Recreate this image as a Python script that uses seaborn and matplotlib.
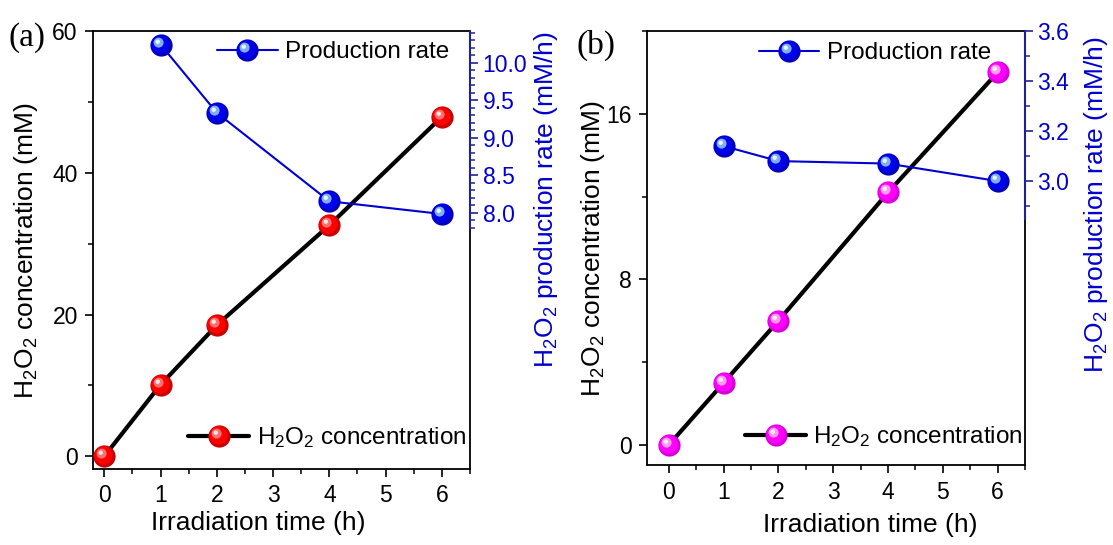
import numpy as np
import pandas as pd
import matplotlib
matplotlib.use('Agg')
import matplotlib.pyplot as plt
import seaborn as sns
from matplotlib.markers import MarkerStyle
from matplotlib.transforms import Affine2D
from matplotlib.lines import Line2D
from matplotlib.legend_handler import HandlerTuple
from matplotlib.ticker import FixedLocator, FormatStrFormatter

# ---------------- data ----------------
time_conc = [0, 1, 2, 4, 6]
time_rate = [1, 2, 4, 6]
conc_a = [0.0, 10.1, 18.5, 32.6, 47.9]
rate_a = [10.24, 9.33, 8.15, 7.98]
conc_b = [0.0, 3.0, 6.0, 12.2, 18.0]
rate_b = [3.14, 3.08, 3.07, 3.00]
x_ticks = [0, 1, 2, 3, 4, 5, 6]
conc_ticks_a = [0, 20, 40, 60]
conc_ticks_b = [0, 8, 16]
rate_ticks_a = [8.0, 8.5, 9.0, 9.5, 10.0]
rate_ticks_b = [3.0, 3.2, 3.4, 3.6]
x_label = 'Irradiation time (h)'
conc_label = r'H$_2$O$_2$ concentration (mM)'
rate_label = r'H$_2$O$_2$ production rate (mM/h)'
legend_conc = r'H$_2$O$_2$ concentration'
legend_rate = 'Production rate'
panel_labels = ['(a)', '(b)']

# ---------------- style ----------------
sns.set_style('ticks')
plt.rcParams['font.family'] = ['Liberation Sans', 'DejaVu Sans']
plt.rcParams['mathtext.default'] = 'regular'
plt.rcParams['axes.linewidth'] = 1.3
plt.rcParams['text.color'] = 'black'
plt.rcParams['axes.labelcolor'] = 'black'
plt.rcParams['xtick.color'] = 'black'
plt.rcParams['ytick.color'] = 'black'

BLUE_TXT = '#0000CC'
BLUE_AX = '#20209A'
MS = 16

sphere_colors = {
    'red': ['#C80000', '#FF0000', '#FF7070', '#FFE6E6'],
    'magenta': ['#D800D8', '#FF00FF', '#FF9CEB', '#FFF0F8'],
    'blue': ['#0000B8', '#0000F0', '#7FB0F0', '#E8F4FF'],
}
layers = [(1.0, 0.0), (0.82, 0.05), (0.45, 0.13), (0.2, 0.17)]


def layer_marker(scale, off):
    return MarkerStyle('o', transform=Affine2D().scale(scale).translate(-off, off))


def draw_spheres(ax, x, y, cname, z):
    for (sc, off), col in zip(layers, sphere_colors[cname]):
        ax.plot(x, y, ls='none', marker=layer_marker(sc, off), ms=MS,
                mfc=col, mec='none', zorder=z)


def legend_handle(line_color, lw, cname):
    hs = [Line2D([], [], color=line_color, lw=lw)]
    for (sc, off), col in zip(layers, sphere_colors[cname]):
        hs.append(Line2D([], [], ls='none', marker=layer_marker(sc, off), ms=MS,
                         mfc=col, mec='none'))
    return tuple(hs)


fig = plt.figure(figsize=(11.13, 5.45), dpi=100)
axA = fig.add_axes([0.0836, 0.1394, 0.3387, 0.8037])
axB = fig.add_axes([0.5813, 0.1459, 0.3396, 0.7970])

panels = [
    dict(ax=axA, conc=conc_a, rate=rate_a, cname='red', xlim=(-0.2, 6.5),
         ylim=(-1.8, 60), cticks=conc_ticks_a, cminor=[10, 30, 50],
         tylim=(4.58, 10.42), rticks=rate_ticks_a,
         rminor=[7.8, 7.9, 8.1, 8.2, 8.3, 8.4, 8.6, 8.7, 8.8, 8.9, 9.1, 9.2, 9.3, 9.4,
                 9.6, 9.7, 9.8, 9.9, 10.1, 10.2, 10.3, 10.4],
         bounds=(7.8, 10.42), fmt='%.1f',
         rate_leg=(0.945, 0.952), conc_leg=(0.99, 0.071),
         ylab_pos=(-0.14, 0.5), rlab_pos=(1.165, 0.615), xlab_pos=(0.439, -0.096),
         panel=(8, 38)),
    dict(ax=axB, conc=conc_b, rate=rate_b, cname='magenta', xlim=(-0.4, 6.5),
         ylim=(-1.0, 20.0), cticks=conc_ticks_b, cminor=[4, 12, 20],
         tylim=(1.862, 3.6), rticks=rate_ticks_b,
         rminor=[2.9, 3.1, 3.3, 3.5],
         bounds=(2.85, 3.6), fmt='%.1f',
         rate_leg=(0.91, 0.949), conc_leg=(0.995, 0.066),
         ylab_pos=(-0.105, 0.5), rlab_pos=(1.152, 0.6), xlab_pos=(0.59, -0.109),
         panel=(577, 45)),
]

for i, p in enumerate(panels):
    ax = p['ax']
    sns.lineplot(x=time_conc, y=p['conc'], ax=ax, color='black', lw=3,
                 sort=False, estimator=None, zorder=2)
    draw_spheres(ax, time_conc, p['conc'], p['cname'], 3)
    ax.set_xlim(*p['xlim'])
    ax.set_ylim(*p['ylim'])
    ax.xaxis.set_major_locator(FixedLocator(x_ticks))
    ax.xaxis.set_minor_locator(FixedLocator(np.arange(-0.0, 6.6, 0.5)))
    ax.yaxis.set_major_locator(FixedLocator(p['cticks']))
    ax.yaxis.set_minor_locator(FixedLocator(p['cminor']))
    ax.tick_params(which='major', direction='out', length=6, width=1.2,
                   labelsize=16.5, pad=5, color='black', labelcolor='black')
    ax.tick_params(which='minor', direction='out', length=3.5, width=1.1, color='black')
    for s in ax.spines.values():
        s.set_visible(True)
        s.set_color('black')
        s.set_linewidth(1.3)
    ax.set_xlabel(x_label, fontsize=19, color='black')
    ax.xaxis.set_label_coords(*p['xlab_pos'])
    ax.set_ylabel(conc_label, fontsize=19, color='black')
    ax.yaxis.set_label_coords(*p['ylab_pos'])

    tw = ax.twinx()
    sns.lineplot(x=time_rate, y=p['rate'], ax=tw, color='#0000D0', lw=1.5,
                 sort=False, estimator=None, zorder=2)
    draw_spheres(tw, time_rate, p['rate'], 'blue', 3)
    tw.set_ylim(*p['tylim'])
    tw.yaxis.set_major_locator(FixedLocator(p['rticks']))
    tw.yaxis.set_minor_locator(FixedLocator(p['rminor']))
    tw.yaxis.set_major_formatter(FormatStrFormatter(p['fmt']))
    tw.tick_params(which='major', direction='out', length=6, width=1.2,
                   labelsize=16.5, pad=3, color=BLUE_AX, labelcolor=BLUE_TXT)
    tw.tick_params(which='minor', direction='out', length=3.5, width=1.1, color=BLUE_AX)
    for k in ['top', 'left', 'bottom']:
        tw.spines[k].set_visible(False)
    tw.spines['right'].set_color(BLUE_AX)
    tw.spines['right'].set_linewidth(1.5)
    tw.spines['right'].set_bounds(*p['bounds'])
    tw.set_ylabel(rate_label, fontsize=19, color=BLUE_TXT)
    tw.yaxis.set_label_coords(*p['rlab_pos'])

    leg1 = tw.legend([legend_handle('#0000D0', 1.5, 'blue')], [legend_rate],
                     handler_map={tuple: HandlerTuple(ndivide=1, pad=0)},
                     loc='center right', bbox_to_anchor=p['rate_leg'],
                     frameon=False, fontsize=17.5, handlelength=2.5,
                     handletextpad=0.3, borderpad=0, borderaxespad=0)
    tw.add_artist(leg1)
    leg2 = tw.legend([legend_handle('black', 3, p['cname'])], [legend_conc],
                     handler_map={tuple: HandlerTuple(ndivide=1, pad=0)},
                     loc='center right', bbox_to_anchor=p['conc_leg'],
                     frameon=False, fontsize=17.5, handlelength=2.5,
                     handletextpad=0.3, borderpad=0, borderaxespad=0)

    px, py = p['panel']
    fig.text(px / 1113, 1 - py / 545, panel_labels[i], family='Liberation Serif',
             fontsize=24, ha='left', va='center', color='black')

fig.savefig('out.png', dpi=100, facecolor='white')
